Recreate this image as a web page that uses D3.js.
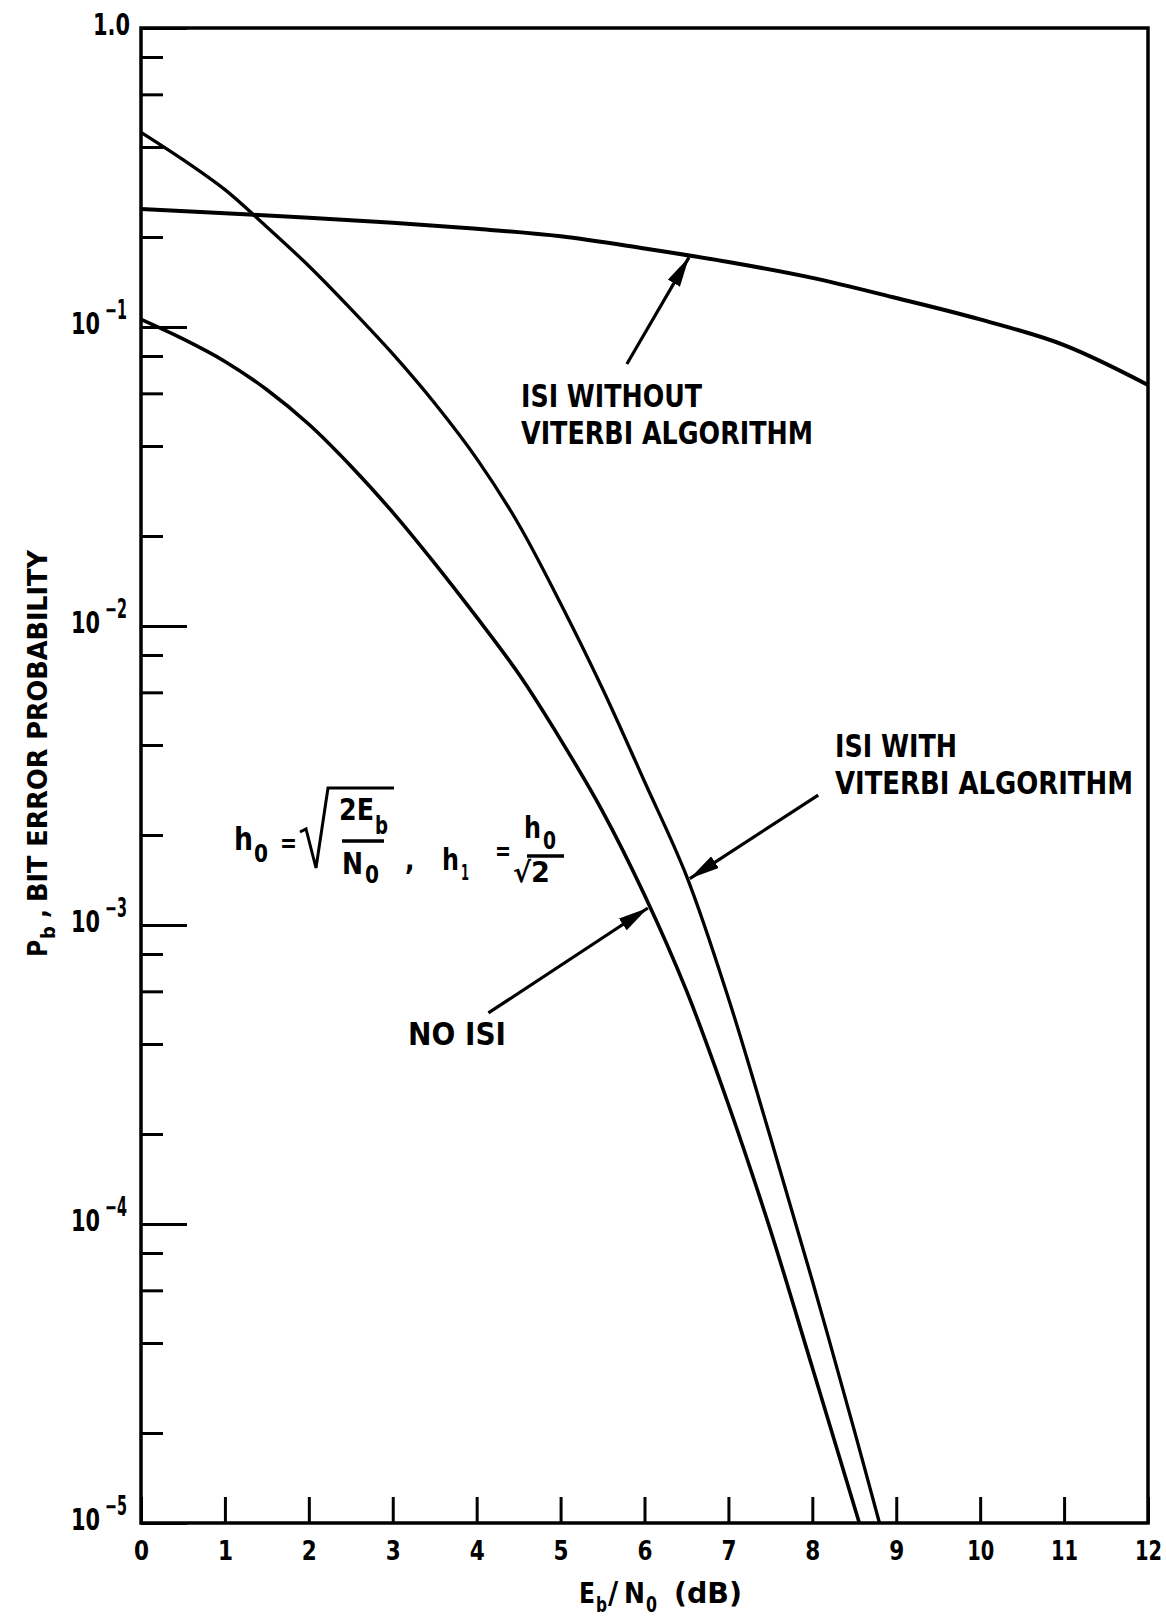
<!DOCTYPE html>
<html>
<head>
<meta charset="utf-8">
<script src="https://cdn.jsdelivr.net/npm/d3@7"></script>
<style>
body { margin: 0; background: #fff; }
text { font-family: 'DejaVu Sans', 'Liberation Sans', sans-serif; font-stretch: condensed; fill: #000; }
</style>
</head>
<body>
<div id="chart"></div>
<script>
// values: Eb/N0 (dB) and Pb
var ebN0Without = [0, 1, 2, 3, 4, 5, 6, 7, 8, 9, 10, 11, 12];
var pbWithout = [0.248, 0.240, 0.232, 0.223, 0.213, 0.201, 0.183, 0.165, 0.146, 0.125, 0.106, 0.087, 0.064];

var ebN0With = [0, 0.5, 1, 1.5, 2, 2.5, 3, 3.5, 4, 4.5, 5, 5.5, 6, 6.5, 7, 7.5, 8, 8.5, 8.8];
var pbWith = [0.448, 0.363, 0.288, 0.216, 0.160, 0.115, 0.0813, 0.0556, 0.0363, 0.0219, 0.0119,
    0.00617, 0.00302, 0.00146, 5.69e-4, 1.95e-4, 6.46e-5, 2.04e-5, 1.0e-5];

var ebN0NoIsi = [0, 0.5, 1, 1.5, 2, 2.5, 3, 3.5, 4, 4.5, 5, 5.5, 6, 6.5, 7, 7.5, 8, 8.56];
var pbNoIsi = [0.106, 0.0912, 0.0767, 0.0617, 0.0473, 0.0343, 0.0240, 0.0162, 0.0107, 0.00692,
    0.00417, 0.00240, 0.00126, 6.03e-4, 2.51e-4, 9.55e-5, 3.31e-5, 1.0e-5];

var xTicks = [0, 1, 2, 3, 4, 5, 6, 7, 8, 9, 10, 11, 12];
var yTicks = [1, 1e-1, 1e-2, 1e-3, 1e-4, 1e-5];
var yTickBase = ["1.0", "10", "10", "10", "10", "10"];
var yTickExp = ["", "\u22121", "\u22122", "\u22123", "\u22124", "\u22125"];
var yMinorTicks = [];
[1e-1, 1e-2, 1e-3, 1e-4, 1e-5].forEach(function(dec) {
    [2, 4, 6, 8].forEach(function(m) { yMinorTicks.push(m * dec); });
});

// arrows: tail -> head, in data coordinates
var arrowFrom = [[5.79, 0.0752], [8.07, 0.00272], [4.14, 5.08e-4]];
var arrowTo = [[6.53, 0.171], [6.54, 0.00143], [6.04, 0.00114]];
var labelLines = [["ISI WITHOUT", "VITERBI ALGORITHM"], ["ISI WITH", "VITERBI ALGORITHM"], ["NO ISI"]];

var svgWidth = 1166;
var svgHeight = 1620;
var margin = { top: 28, right: 18, bottom: 97, left: 141 };

var svg = d3.select("#chart")
    .append("svg")
    .attr("width", svgWidth)
    .attr("height", svgHeight)
    .style("background", "#fff");

var x = d3.scaleLinear()
    .domain([0, 12])
    .range([margin.left, svgWidth - margin.right]);

var y = d3.scaleLog()
    .domain([1e-5, 1])
    .range([svgHeight - margin.bottom, margin.top]);

var plotLeft = x(0), plotRight = x(12), plotTop = y(1), plotBottom = y(1e-5);

// minor ticks on the left side
svg.append("g")
    .attr("transform", `translate(${plotLeft},0)`)
    .call(d3.axisLeft(y).tickValues(yMinorTicks).tickSize(-22).tickFormat(""))
    .call(g => g.select(".domain").remove())
    .call(g => g.selectAll("line").attr("stroke", "#000").attr("stroke-width", 3));

// decade ticks + labels
var yAxisG = svg.append("g")
    .attr("transform", `translate(${plotLeft},0)`)
    .call(d3.axisLeft(y).tickValues(yTicks).tickSize(-46).tickFormat((d, i) => yTickBase[i]))
    .call(g => g.select(".domain").remove())
    .call(g => g.selectAll("line").attr("stroke", "#000").attr("stroke-width", 3));

yAxisG.selectAll("text")
    .attr("x", (d, i) => i === 0 ? -11 : -41)
    .attr("dy", null)
    .attr("y", 6)
    .attr("font-size", 30)
    .attr("font-weight", "bold")
    .attr("font-family", null)
    .attr("textLength", (d, i) => i === 0 ? 37 : 29)
    .attr("lengthAdjust", "spacingAndGlyphs");

// exponents as their own texts
yAxisG.selectAll(".tick").each(function(d, i) {
    if (!yTickExp[i]) return;
    d3.select(this).append("text")
        .attr("x", -36)
        .attr("y", -9)
        .attr("text-anchor", "start")
        .attr("font-size", 26)
        .attr("font-weight", "bold")
        .attr("fill", "#000")
        .attr("textLength", 22)
        .attr("lengthAdjust", "spacingAndGlyphs")
        .text(yTickExp[i]);
});

// bottom ticks pointing up
var xAxisG = svg.append("g")
    .attr("transform", `translate(0,${plotBottom})`)
    .call(d3.axisBottom(x).tickValues(xTicks).tickSize(-26).tickFormat(d3.format("d")))
    .call(g => g.select(".domain").remove())
    .call(g => g.selectAll("line").attr("stroke", "#000").attr("stroke-width", 3));

xAxisG.selectAll("text")
    .attr("dy", null)
    .attr("y", 37)
    .attr("font-size", 27)
    .attr("font-weight", "bold")
    .attr("font-family", null)
    .attr("textLength", d => String(d).length > 1 ? 27 : 15)
    .attr("lengthAdjust", "spacingAndGlyphs");

// frame
svg.append("rect")
    .attr("x", plotLeft)
    .attr("y", plotTop)
    .attr("width", plotRight - plotLeft)
    .attr("height", plotBottom - plotTop)
    .attr("fill", "none")
    .attr("stroke", "#000")
    .attr("stroke-width", 3.5);

// curves
var line = d3.line()
    .x(d => x(d[0]))
    .y(d => y(d[1]))
    .curve(d3.curveCatmullRom.alpha(0.5));

var series = [
    { xs: ebN0Without, ys: pbWithout, w: 4 },
    { xs: ebN0With, ys: pbWith, w: 3.3 },
    { xs: ebN0NoIsi, ys: pbNoIsi, w: 3.6 }
];

svg.selectAll(".curve")
    .data(series)
    .enter()
    .append("path")
    .attr("class", "curve")
    .attr("d", s => line(s.xs.map((v, i) => [v, s.ys[i]])))
    .attr("fill", "none")
    .attr("stroke", "#000")
    .attr("stroke-width", s => s.w)
    .attr("stroke-linejoin", "round");

// arrows
svg.append("defs").append("marker")
    .attr("id", "head")
    .attr("markerUnits", "userSpaceOnUse")
    .attr("markerWidth", 30)
    .attr("markerHeight", 14)
    .attr("refX", 30)
    .attr("refY", 7)
    .attr("orient", "auto")
    .append("path")
    .attr("d", "M0,0 L30,7 L0,14 Z")
    .attr("fill", "#000");

svg.selectAll(".arrow")
    .data(arrowFrom)
    .enter()
    .append("line")
    .attr("class", "arrow")
    .attr("x1", d => x(d[0]))
    .attr("y1", d => y(d[1]))
    .attr("x2", (d, i) => x(arrowTo[i][0]))
    .attr("y2", (d, i) => y(arrowTo[i][1]))
    .attr("stroke", "#000")
    .attr("stroke-width", 3.2)
    .attr("marker-end", "url(#head)");

// curve labels
var labelPos = [[521, 407], [835, 757], [408, 1045]];
var labelWidths = [[181, 292], [122, 298], [98]];
labelLines.forEach(function(lines, k) {
    lines.forEach(function(t, j) {
        svg.append("text")
            .attr("x", labelPos[k][0])
            .attr("y", labelPos[k][1] + j * 37)
            .attr("font-size", 32)
            .attr("font-weight", "bold")
            .attr("textLength", labelWidths[k][j])
            .attr("lengthAdjust", "spacingAndGlyphs")
            .text(t);
    });
});

// formula h0 = sqrt(2Eb/N0), h1 = h0/sqrt2
var f = svg.append("g").attr("font-weight", "bold");
function ft(tx, ty, s, size, w) {
    var t = f.append("text").attr("x", tx).attr("y", ty).attr("font-size", size).text(s);
    if (w) t.attr("textLength", w).attr("lengthAdjust", "spacingAndGlyphs");
}
ft(234, 850, "h", 32, 19);
ft(254, 862, "0", 24, 14);
ft(280, 852, "=", 26, 17);
f.append("path")
    .attr("d", "M300,832 L306,829 L316,868 L328,788 L394,788")
    .attr("fill", "none").attr("stroke", "#000").attr("stroke-width", 3);
ft(339, 820, "2E", 30, 35);
ft(375, 834, "b", 24, 13);
f.append("line").attr("x1", 342).attr("x2", 384).attr("y1", 841).attr("y2", 841)
    .attr("stroke", "#000").attr("stroke-width", 3.5);
ft(342, 874, "N", 30, 21);
ft(365, 883, "0", 24, 14);
ft(405, 870, ",", 28);
ft(442, 870, "h", 30, 17);
ft(461, 880, "1", 22, 8);
ft(495, 860, "=", 26, 16);
ft(524, 838, "h", 30, 17);
ft(543, 849, "0", 24, 13);
f.append("line").attr("x1", 527).attr("x2", 564).attr("y1", 856).attr("y2", 856)
    .attr("stroke", "#000").attr("stroke-width", 3.5);
ft(513, 882, "\u221A2", 28, 37);

// axis titles
var xt = svg.append("text")
    .attr("y", 1603)
    .attr("font-size", 28)
    .attr("font-weight", "bold");
xt.append("tspan").attr("x", 579).attr("textLength", 16).attr("lengthAdjust", "spacingAndGlyphs").text("E");
xt.append("tspan").attr("x", 596).attr("dy", 9).attr("font-size", 22).attr("textLength", 11)
    .attr("lengthAdjust", "spacingAndGlyphs").text("b");
xt.append("tspan").attr("x", 608).attr("dy", -9).attr("font-size", 31).text("/");
xt.append("tspan").attr("x", 624).attr("font-size", 28).attr("textLength", 21)
    .attr("lengthAdjust", "spacingAndGlyphs").text("N");
xt.append("tspan").attr("x", 646).attr("dy", 9).attr("font-size", 22).attr("textLength", 11)
    .attr("lengthAdjust", "spacingAndGlyphs").text("0");
xt.append("tspan").attr("x", 674).attr("dy", -9).attr("font-size", 28).attr("textLength", 68)
    .attr("lengthAdjust", "spacingAndGlyphs").text("(dB)");

var yt = svg.append("text")
    .attr("transform", "translate(47,957) rotate(-90)")
    .attr("font-size", 26)
    .attr("font-weight", "bold");
yt.append("tspan").attr("x", 0).text("P");
yt.append("tspan").attr("x", 18).attr("dy", 8).attr("font-size", 20).text("b");
yt.append("tspan").attr("x", 39).attr("dy", -8).text(",");
yt.append("tspan").attr("x", 55).attr("textLength", 352)
    .attr("lengthAdjust", "spacingAndGlyphs").text("BIT ERROR PROBABILITY");
</script>
</body>
</html>
